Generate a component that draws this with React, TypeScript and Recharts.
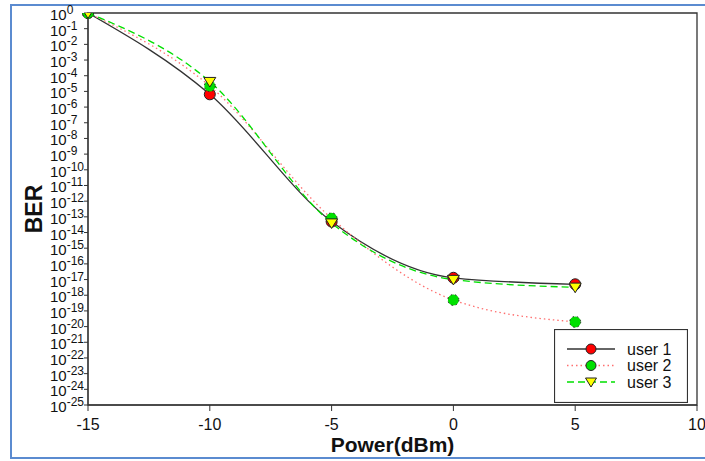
import React from "react";
import { LineChart, Line, XAxis, YAxis, ReferenceArea } from "recharts";

const powers = [-15, -10, -5, 0, 5];
const user1 = [1, 6.5e-6, 5e-14, 1.3e-17, 5e-18];
const user2 = [1, 2.2e-5, 8e-14, 5e-19, 2e-20];
const user3 = [1, 4.2e-5, 4e-14, 1e-17, 3.2e-18];
const xTicks = [-15, -10, -5, 0, 5, 10];
const yExponents = [0, -1, -2, -3, -4, -5, -6, -7, -8, -9, -10, -11, -12, -13, -14, -15, -16, -17, -18, -19, -20, -21, -22, -23, -24, -25];
const yTicks = yExponents.map((e) => Math.pow(10, e));
const seriesNames = ["user 1", "user 2", "user 3"];

const data = powers.map((p, i) => ({ p, u1: user1[i], u2: user2[i], u3: user3[i] }));

const FONT = "Arial, 'Liberation Sans', sans-serif";

const YTick = (props: any) => {
  const { y, payload } = props;
  const e = Math.round(Math.log10(payload.value));
  return (
    <text x={50} y={y + 7} fontFamily={FONT} fontSize={15} fill="#111" textAnchor="start">
      10
      <tspan dy={-6} fontSize={12}>{e}</tspan>
    </text>
  );
};

const Tri = (props: any) => {
  const { cx, cy } = props;
  if (cx == null || cy == null) return null;
  const r = 6;
  return (
    <path
      d={`M${cx - r},${cy - r * 0.7} L${cx + r},${cy - r * 0.7} L${cx},${cy + r * 0.9} Z`}
      fill="#ffff00"
      stroke="#222"
      strokeWidth={1}
    />
  );
};

const LegendBox = () => {
  const rows = [
    { name: seriesNames[0], stroke: "#333", dash: undefined, marker: "circle", fill: "#ff0000" },
    { name: seriesNames[1], stroke: "#ff6f6f", dash: "1.5 3", marker: "circle", fill: "#00e000" },
    { name: seriesNames[2], stroke: "#00e000", dash: "7 4", marker: "tri", fill: "#ffff00" },
  ];
  return (
    <svg width={134} height={74} style={{ display: "block" }}>
      <rect x={0.5} y={0.5} width={133} height={73} fill="#fff" stroke="#333" strokeWidth={1.2} />
      {rows.map((r, i) => {
        const cy = 20 + i * 16.5;
        return (
          <g key={r.name}>
            <line x1={13} x2={61} y1={cy} y2={cy} stroke={r.stroke} strokeWidth={1.3} strokeDasharray={r.dash} />
            {r.marker === "circle" ? (
              <circle cx={37} cy={cy} r={5} fill={r.fill} stroke="#222" strokeWidth={1} />
            ) : (
              <path d={`M${37 - 5.5},${cy - 4} L${37 + 5.5},${cy - 4} L${37},${cy + 5} Z`} fill={r.fill} stroke="#222" strokeWidth={1} />
            )}
            <text x={73} y={cy + 5.5} fontFamily={FONT} fontSize={16} fill="#111">{r.name}</text>
          </g>
        );
      })}
    </svg>
  );
};

export default function App() {
  return (
    <div style={{ position: "absolute", left: 0, top: 0, width: 705, height: 461, background: "#fff", overflow: "hidden" }}>
      <div
        style={{
          position: "absolute",
          left: 10,
          top: 4,
          width: 720,
          height: 455,
          border: "2px solid #5b8bd0",
          boxSizing: "border-box",
        }}
      />
      <div style={{ position: "absolute", left: 0, top: 0 }}>
        <LineChart width={705} height={461} data={data} margin={{ top: 13, right: 8, bottom: 0, left: 0 }}>
          <XAxis
            dataKey="p"
            type="number"
            domain={[-15, 10]}
            ticks={xTicks}
            height={56}
            stroke="#333"
            tickLine={{ stroke: "#333" }}
            tickSize={6}
            tick={{ fontFamily: FONT, fontSize: 16, fill: "#111" }}
            tickMargin={8}
            label={{ value: "Power(dBm)", position: "insideBottom", offset: 9, style: { fontFamily: FONT, fontSize: 21, fontWeight: "bold", fill: "#111" } }}
          />
          <YAxis
            type="number"
            scale="log"
            domain={[1e-25, 1]}
            ticks={yTicks}
            interval={0}
            allowDataOverflow
            width={88}
            stroke="#333"
            tickSize={4}
            tick={<YTick />}
            label={{ value: "BER", angle: -90, position: "insideLeft", offset: 34, style: { fontFamily: FONT, fontSize: 23, fontWeight: "bold", fill: "#111", textAnchor: "middle" } }}
          />
          <ReferenceArea x1={-15} x2={10} y1={1e-25} y2={1} fill="none" stroke="#333" strokeWidth={1.3} ifOverflow="visible" />
          <Line
            dataKey="u1"
            name={seriesNames[0]}
            type="monotone"
            stroke="#333"
            strokeWidth={1.3}
            dot={{ r: 5.5, fill: "#ff0000", stroke: "#222", strokeWidth: 1 }}
            isAnimationActive={false}
          />
          <Line
            dataKey="u2"
            name={seriesNames[1]}
            type="monotone"
            stroke="#ff6f6f"
            strokeWidth={1.3}
            strokeDasharray="1.5 3"
            dot={{ r: 5.5, fill: "#00e000", stroke: "#222", strokeWidth: 1 }}
            isAnimationActive={false}
          />
          <Line
            dataKey="u3"
            name={seriesNames[2]}
            type="monotone"
            stroke="#00e000"
            strokeWidth={1.3}
            strokeDasharray="7 4"
            dot={<Tri />}
            isAnimationActive={false}
          />
        </LineChart>
      </div>
      <div style={{ position: "absolute", left: 554, top: 329 }}>
        <LegendBox />
      </div>
    </div>
  );
}
